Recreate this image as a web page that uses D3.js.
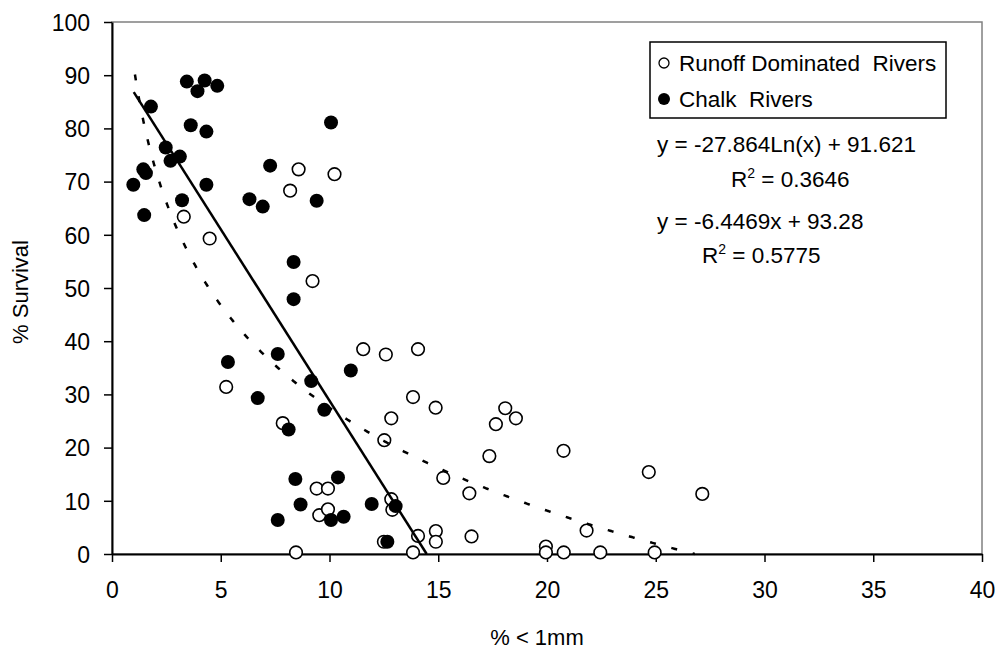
<!DOCTYPE html>
<html>
<head>
<meta charset="utf-8">
<script src="https://cdn.jsdelivr.net/npm/d3@7"></script>
<style>
  body { margin: 0; background: #fff; }
  svg text { font-family: "Liberation Sans", Arial, sans-serif; fill: #000; }
</style>
</head>
<body>
<script>
const w = 1001;
const h = 650;
const margin = {top: 22, right: 16, bottom: 96, left: 112};

// runoff dominated rivers (open markers): [% < 1mm, % survival]
const runoff = [
  [3.30,63.4],[4.49,59.3],[5.25,31.4],[7.85,24.6],[8.19,68.3],[8.58,72.3],[9.22,51.3],
  [9.41,12.3],[9.93,12.3],[9.53,7.3],[9.93,8.4],[8.46,0.3],[10.23,71.4],[11.55,38.5],
  [12.59,37.5],[14.07,38.5],[13.84,29.5],[14.88,27.5],[18.08,27.4],[18.57,25.5],
  [17.65,24.4],[12.84,25.5],[12.52,21.4],[17.35,18.4],[20.76,19.4],[15.23,14.3],
  [16.43,11.4],[12.84,10.3],[12.89,8.3],[21.82,4.4],[14.07,3.4],[14.89,4.3],[14.89,2.3],
  [16.53,3.3],[12.5,2.3],[13.84,0.3],[19.95,1.4],[19.95,0.3],[20.77,0.3],[22.45,0.3],
  [24.68,15.4],[27.14,11.3],[24.95,0.3]
];

// chalk rivers (filled markers)
const chalk = [
  [3.44,88.8],[4.26,89.0],[4.84,88.0],[3.93,87.0],[1.79,84.1],[3.62,80.6],[4.34,79.4],
  [10.07,81.1],[2.47,76.4],[3.12,74.7],[2.69,73.9],[1.44,72.3],[1.56,71.6],[7.27,73.0],
  [0.98,69.4],[4.34,69.4],[3.22,66.5],[6.32,66.7],[6.93,65.3],[9.41,66.4],[1.48,63.7],
  [8.35,54.9],[8.35,47.9],[7.62,37.6],[5.33,36.1],[10.98,34.5],[9.16,32.5],[6.70,29.3],
  [9.76,27.1],[8.12,23.4],[8.43,14.1],[10.39,14.4],[8.67,9.3],[7.62,6.4],[10.07,6.4],
  [10.65,7.0],[11.94,9.4],[13.04,9.0],[12.66,2.3]
];

const xTicks = [0,5,10,15,20,25,30,35,40];
const yTicks = [0,10,20,30,40,50,60,70,80,90,100];

// trendline coefficients
const logFit = {a: -27.864, b: 91.621};
const linFit = {a: -6.4469, b: 93.28};

const svg = d3.select('body').append('svg')
              .attr('width', w)
              .attr('height', h);

const x = d3.scaleLinear().domain([0, 40]).range([margin.left, w - margin.right - 3]);
const y = d3.scaleLinear().domain([0, 100]).range([h - margin.bottom, margin.top]);

// plot frame (grey top/right)
svg.append('rect')
   .attr('x', x(0)).attr('y', y(100))
   .attr('width', x(40) - x(0)).attr('height', y(0) - y(100))
   .attr('fill', 'none').attr('stroke', '#808080').attr('stroke-width', 1.5);

const xAxis = svg.append('g')
   .attr('transform', 'translate(0,' + y(0) + ')')
   .call(d3.axisBottom(x).tickValues(xTicks).tickSize(8).tickSizeOuter(0).tickPadding(20));

const yAxis = svg.append('g')
   .attr('transform', 'translate(' + x(0) + ',0)')
   .call(d3.axisLeft(y).tickValues(yTicks).tickSize(8).tickSizeOuter(0).tickPadding(14));

[xAxis, yAxis].forEach(g => {
  g.select('.domain').attr('stroke', '#000').attr('stroke-width', 2);
  g.selectAll('.tick line').attr('stroke', '#000').attr('stroke-width', 1.5);
  g.selectAll('.tick text').style('font-size', '23px').attr('fill', '#000');
});
yAxis.selectAll('.tick text').attr('dy', '0.36em');

svg.append('text')
   .text('% < 1mm')
   .attr('x', 537)
   .attr('y', 645)
   .attr('text-anchor', 'middle')
   .style('font-size', '22px');

svg.append('text')
   .text('% Survival')
   .attr('transform', 'translate(28,292) rotate(-90)')
   .attr('text-anchor', 'middle')
   .style('font-size', '22px');

// markers: runoff first, chalk on top
svg.append('g').selectAll('circle')
   .data(runoff)
   .enter()
   .append('circle')
   .attr('cx', d => x(d[0]))
   .attr('cy', d => y(d[1]))
   .attr('r', 6.3)
   .attr('fill', '#fff')
   .attr('stroke', '#000')
   .attr('stroke-width', 1.6);

svg.append('g').selectAll('circle')
   .data(chalk)
   .enter()
   .append('circle')
   .attr('cx', d => x(d[0]))
   .attr('cy', d => y(d[1]))
   .attr('r', 7)
   .attr('fill', '#000');

// trendlines
const linX0 = 1, linX1 = -linFit.b / linFit.a;
svg.append('line')
   .attr('x1', x(linX0)).attr('y1', y(linFit.a * linX0 + linFit.b))
   .attr('x2', x(linX1)).attr('y2', y(0))
   .attr('stroke', '#000').attr('stroke-width', 2.5);

const logEnd = Math.exp(-logFit.b / logFit.a);
const logPts = d3.range(1, logEnd, 0.05).concat([logEnd]);
svg.append('path')
   .datum(logPts)
   .attr('d', d3.line().x(v => x(v)).y(v => y(logFit.a * Math.log(v) + logFit.b)))
   .attr('fill', 'none')
   .attr('stroke', '#000')
   .attr('stroke-width', 2.5)
   .attr('stroke-dasharray', '6,16')
   .attr('stroke-dashoffset', 14);

// legend
const legend = svg.append('g');
legend.append('rect')
      .attr('x', 650).attr('y', 42).attr('width', 296).attr('height', 76)
      .attr('fill', '#fff').attr('stroke', '#000').attr('stroke-width', 1.5);
legend.append('circle')
      .attr('cx', 664).attr('cy', 63).attr('r', 5)
      .attr('fill', '#fff').attr('stroke', '#000').attr('stroke-width', 1.3);
legend.append('circle')
      .attr('cx', 664).attr('cy', 99).attr('r', 6)
      .attr('fill', '#000');
legend.append('text')
      .text('Runoff Dominated  Rivers')
      .attr('x', 679).attr('y', 71)
      .style('white-space', 'pre')
      .style('font-size', '22.5px');
legend.append('text')
      .text('Chalk  Rivers')
      .attr('x', 679).attr('y', 107)
      .style('white-space', 'pre')
      .style('font-size', '22.5px');

// equations
function eqn(txt, x0, y0) {
  svg.append('text').text(txt).attr('x', x0).attr('y', y0).style('font-size', '22.5px');
}
function rsq(val, x0, y0) {
  const t = svg.append('text').attr('x', x0).attr('y', y0).style('font-size', '22.5px');
  t.append('tspan').text('R');
  t.append('tspan').text('2').attr('dy', -9).style('font-size', '14px');
  t.append('tspan').text(' = ' + val).attr('dy', 9);
}
eqn('y = -27.864Ln(x) + 91.621', 657, 152);
rsq('0.3646', 731, 187);
eqn('y = -6.4469x + 93.28', 657, 229);
rsq('0.5775', 702, 263);
</script>
</body>
</html>
